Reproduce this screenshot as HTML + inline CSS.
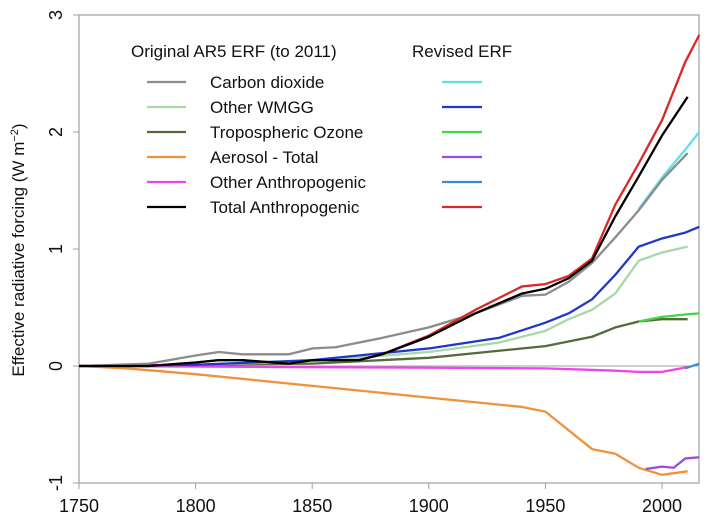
<!DOCTYPE html>
<html><head><meta charset="utf-8"><style>
body{margin:0;background:#fff;font-family:"Liberation Sans",Arial,sans-serif}
svg text{font-family:"Liberation Sans",Arial,sans-serif;fill:#111}
</style></head><body>
<svg id="chart" width="706" height="527" viewBox="0 0 706 527" xmlns="http://www.w3.org/2000/svg">
<rect x="0" y="0" width="706" height="527" fill="#fff"/>
<g id="axes"></g>
<g id="series"></g>
<g id="legend">
<text x="131" y="57" font-size="17">Original AR5 ERF (to 2011)</text>
<text x="412" y="57" font-size="17">Revised ERF</text>
</g>
<text transform="translate(24,250) rotate(-90)" text-anchor="middle" font-size="17">Effective radiative forcing (W m<tspan dy="-6" font-size="11">−2</tspan><tspan dy="6">)</tspan></text>
</svg>
<script>
const yTicks=[3,2,1,0,-1];
const xTicks=[1750,1800,1850,1900,1950,2000];
const legendLabels=["Carbon dioxide","Other WMGG","Tropospheric Ozone","Aerosol - Total","Other Anthropogenic","Total Anthropogenic"];
const origColors=["#8c8c8c","#a8d8a8","#556b3c","#f0913c","#ee44ee","#000000"];
const revColors=["#5fe0e8","#2038c8","#40d840","#9a4ce0","#3c8cd0","#d82828"];
const co2Years=[1750,1780,1800,1810,1820,1840,1850,1860,1880,1900,1920,1940,1950,1960,1970,1980,1990,2000,2011];
const co2Vals=[0,0.02,0.09,0.12,0.1,0.1,0.15,0.16,0.24,0.33,0.45,0.6,0.61,0.72,0.88,1.1,1.33,1.59,1.82];
const co2RevYears=[1990,2000,2010,2016];
const co2RevVals=[1.34,1.61,1.85,2.0];
const wmggYears=[1750,1800,1850,1900,1930,1950,1960,1970,1980,1990,2000,2011];
const wmggVals=[0,0.01,0.04,0.12,0.2,0.3,0.4,0.48,0.62,0.9,0.97,1.02];
const wmggRevYears=[1750,1800,1850,1900,1930,1950,1960,1970,1980,1990,2000,2010,2016];
const wmggRevVals=[0,0.01,0.05,0.15,0.24,0.37,0.45,0.57,0.78,1.02,1.09,1.14,1.19];
const ozYears=[1750,1800,1850,1900,1950,1970,1980,1990,2000,2011];
const ozVals=[0,0.01,0.02,0.07,0.17,0.25,0.33,0.38,0.4,0.4];
const ozRevYears=[1990,2000,2010,2016];
const ozRevVals=[0.38,0.42,0.44,0.45];
const aerYears=[1750,1770,1800,1850,1900,1940,1950,1970,1980,1990,2000,2011];
const aerVals=[0,-0.02,-0.07,-0.17,-0.27,-0.35,-0.39,-0.71,-0.75,-0.87,-0.93,-0.9];
const aerRevYears=[1993,2000,2005,2010,2016];
const aerRevVals=[-0.88,-0.86,-0.87,-0.79,-0.78];
const othYears=[1750,1850,1950,1980,1990,2000,2011];
const othVals=[0,-0.01,-0.02,-0.04,-0.05,-0.05,-0.01];
const othRevYears=[2010,2016];
const othRevVals=[-0.02,0.02];
const totYears=[1750,1780,1800,1810,1820,1840,1850,1870,1880,1900,1920,1940,1950,1960,1970,1980,1990,2000,2011];
const totVals=[0,0,0.03,0.05,0.05,0.02,0.05,0.05,0.1,0.25,0.45,0.62,0.66,0.75,0.9,1.28,1.62,1.97,2.3];
const totRevYears=[1750,1780,1800,1810,1820,1840,1850,1870,1880,1900,1920,1940,1950,1960,1970,1980,1990,2000,2010,2016];
const totRevVals=[0,0,0.03,0.05,0.05,0.02,0.05,0.05,0.1,0.26,0.48,0.68,0.7,0.77,0.92,1.38,1.73,2.1,2.6,2.83];

const X0=79,X1=699,Y0=15,Y1=483;
const xs=y=>79+(y-1750)*(662-79)/250;
const ys=v=>366-v*117;
const NS="http://www.w3.org/2000/svg";
function mk(tag,attrs,parent){const e=document.createElementNS(NS,tag);for(const k in attrs)e.setAttribute(k,attrs[k]);parent.appendChild(e);return e;}
const axes=document.getElementById('axes'),ser=document.getElementById('series'),leg=document.getElementById('legend');
const frame=mk('rect',{x:X0,y:Y0,width:X1-X0,height:Y1-Y0,fill:'none',stroke:'#a0a0a0','stroke-width':1.2},axes);


const zl=mk('line',{x1:X0,x2:X1,y1:ys(0),y2:ys(0),stroke:'#a0a0a0','stroke-width':1},axes);


yTicks.forEach(t=>{
 const tk=mk('line',{x1:X0-6,x2:X0,y1:ys(t),y2:ys(t),stroke:'#a0a0a0'},axes);
 
 
 const tx=mk('text',{transform:`translate(${X0-17},${ys(t)}) rotate(-90)`,'text-anchor':'middle','font-size':18},axes);
 
 
 tx.textContent=t;
});
xTicks.forEach(t=>{
 const tk=mk('line',{x1:xs(t),x2:xs(t),y1:Y1,y2:Y1+6,stroke:'#a0a0a0'},axes);
 
 
 const tx=mk('text',{x:xs(t),y:Y1+29,'text-anchor':'middle','font-size':18},axes);
 
 
 tx.textContent=t;
});
function line(years,vals,color,name){
 const p=mk('polyline',{points:years.map((y,i)=>xs(y)+','+ys(vals[i])).join(' '),fill:'none',stroke:color,'stroke-width':2.3,'stroke-linejoin':'round'},ser);
 
 
}
line(othYears,othVals,origColors[4],'other-anthropogenic-line');
line(othRevYears,othRevVals,revColors[4],'other-anthropogenic-revised-line');
line(aerYears,aerVals,origColors[3],'aerosol-line');
line(aerRevYears,aerRevVals,revColors[3],'aerosol-revised-line');
line(ozYears,ozVals,origColors[2],'ozone-line');
line(ozRevYears,ozRevVals,revColors[2],'ozone-revised-line');
line(wmggYears,wmggVals,origColors[1],'wmgg-line');
line(wmggRevYears,wmggRevVals,revColors[1],'wmgg-revised-line');
line(co2RevYears,co2RevVals,revColors[0],'co2-revised-line');
line(co2Years,co2Vals,origColors[0],'co2-line');
line(totRevYears,totRevVals,revColors[5],'total-revised-line');
line(totYears,totVals,origColors[5],'total-line');
legendLabels.forEach((l,i)=>{
 const y=82+i*25;
 const a=mk('line',{x1:147,x2:186,y1:y,y2:y,stroke:origColors[i],'stroke-width':2.3},leg);
 
 
 const b=mk('line',{x1:442,x2:482,y1:y,y2:y,stroke:revColors[i],'stroke-width':2.3},leg);
 
 
 const t=mk('text',{x:210,y:y+6,'font-size':17},leg);
 
 
 t.textContent=l;
});
</script>
</body></html>
